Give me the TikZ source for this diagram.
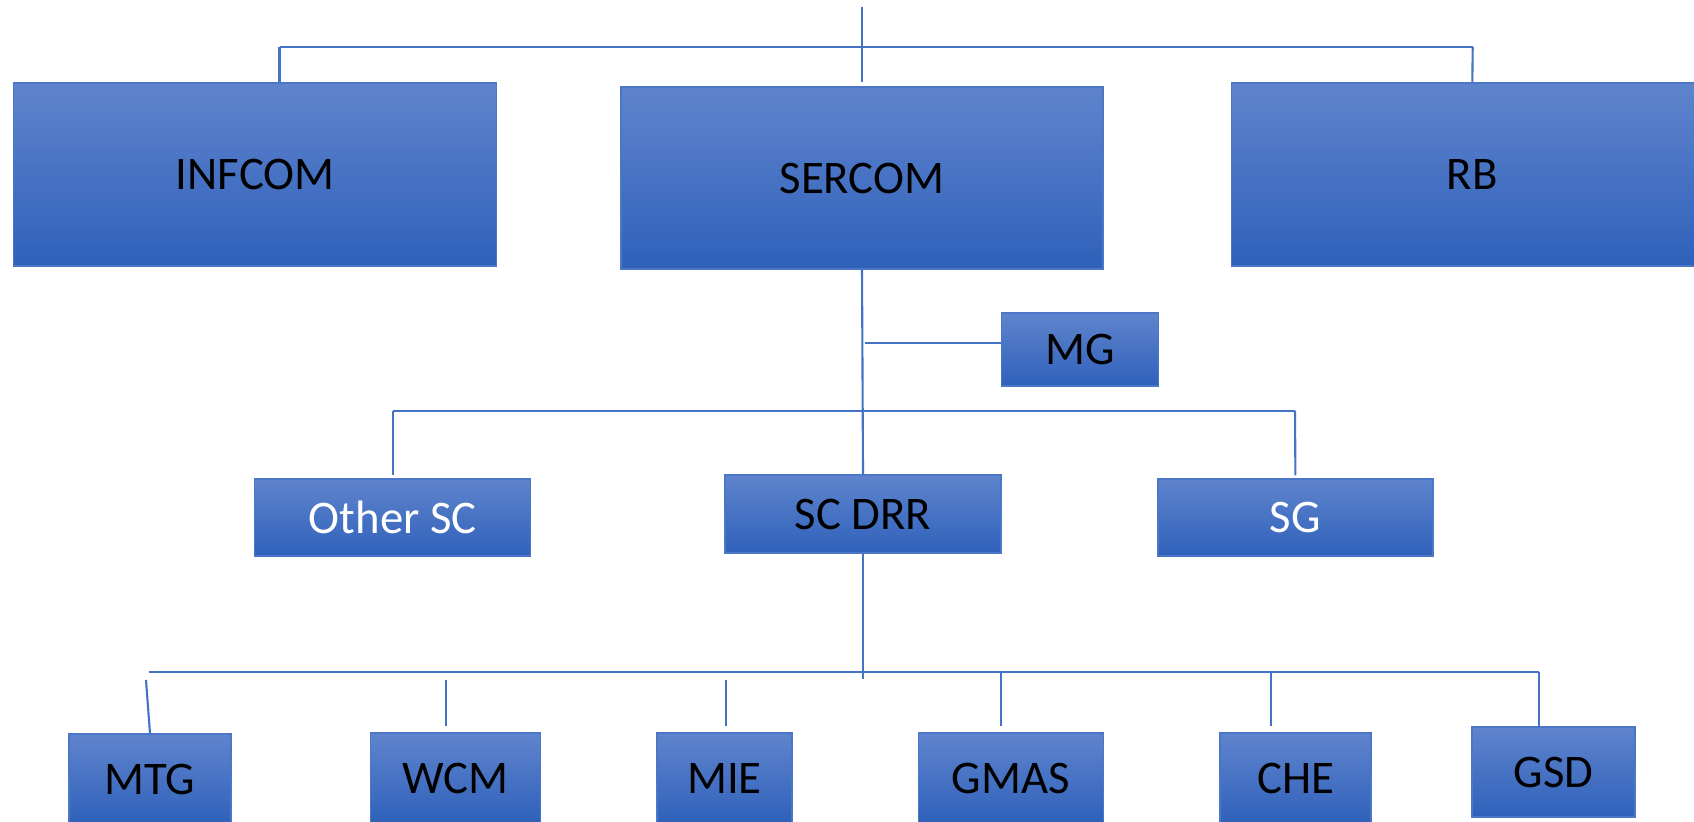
\documentclass[tikz,border=0pt]{standalone}
\usepackage{fontspec}
\setmainfont{Carlito}
\usepackage{tikz}
\usepackage{tkz-euclide}

\definecolor{azulclaro}{RGB}{95,132,205}
\definecolor{azulescuro}{RGB}{47,97,186}
\definecolor{azulborda}{RGB}{76,118,200}
\definecolor{azullinha}{RGB}{68,114,196}

\begin{document}
\begin{tikzpicture}[x=0.1mm, y=-0.1mm,
  caixa/.style={draw=azulborda, line width=0.4pt, top color=azulclaro, bottom color=azulescuro,
    font=\fontsize{13.3}{16}\selectfont, inner sep=0pt},
  linha/.style={draw=azullinha, line width=0.6pt}] %estilos das caixas e das linhas

\clip (0,0) rectangle (1694,821);

%O comando \tkzDefPoints define os pontos (x/y/Nome) usados como centros das caixas e como pontos das linhas
\tkzDefPoints{
255.2/174.5/A, 862/178/B, 1472.3/174.5/C,
1079.8/349.5/D,
392.7/517.5/E, 863/514/F, 1295.4/517.5/G,
150/779/H, 455.7/778/I, 724.5/778/J, 1010.7/778/K, 1295.5/778/L, 1553.4/772/M}

\tkzDefPoints{
862/7/T, 279.5/47/P, 1472.7/47/Q,
865/343/R,
392.7/410.7/S, 1295/410.7/U,
866/679/V, 148.7/672/W, 1539/672/Z,
146/680/N1, 446/680/N2, 726/680/N3, 1000.7/672/N4, 1271/672/N5}

%Primeiro nivel: tres caixas grandes
%---------------------------------------------------
\node[caixa, minimum width=48.3mm, minimum height=18.3mm] (infcom) at (A) {INFCOM};
\node[caixa, minimum width=48.2mm, minimum height=18.2mm] (sercom) at (B) {SERCOM};
\node[caixa, minimum width=48.2mm, minimum height=18.3mm] (rb) at (C) {RB};
%---------------------------------------------------

%Segundo nivel: MG ao lado e as tres caixas abaixo de SERCOM
%---------------------------------------------------
\node[caixa, minimum width=15.7mm, minimum height=7.3mm] (mg) at (D) {MG};
\node[caixa, minimum width=27.6mm, minimum height=7.7mm, text=white] (othersc) at (E) {Other SC};
\node[caixa, minimum width=27.6mm, minimum height=7.8mm] (scdrr) at (F) {SC DRR};
\node[caixa, minimum width=27.5mm, minimum height=7.7mm, text=white] (sg) at (G) {SG};
%---------------------------------------------------

%Terceiro nivel: seis caixas abaixo de SC DRR
%---------------------------------------------------
\node[caixa, minimum width=16.2mm, minimum height=9mm] (mtg) at (H) {MTG};
\node[caixa, minimum width=17mm, minimum height=9mm] (wcm) at (I) {WCM};
\node[caixa, minimum width=13.5mm, minimum height=9mm] (mie) at (J) {MIE};
\node[caixa, minimum width=18.5mm, minimum height=9mm] (gmas) at (K) {GMAS};
\node[caixa, minimum width=15.1mm, minimum height=9mm] (che) at (L) {CHE};
\node[caixa, minimum width=16.3mm, minimum height=9mm] (gsd) at (M) {GSD};
%---------------------------------------------------

%Linhas do primeiro nivel
%---------------------------------------------------
\draw[linha, shorten >=0.4mm] (T) -- (sercom.north);
\draw[linha] (P) -- (Q);
\draw[linha] (P) -- (P |- infcom.north);
\draw[linha] (Q) -- (rb.north);
%---------------------------------------------------

%Linhas do segundo nivel
%---------------------------------------------------
\draw[linha] (sercom.south) -- (scdrr.north);
\draw[linha] (R) -- (R -| mg.west);
\draw[linha] (S) -- (U);
\draw[linha, shorten >=0.3mm] (S) -- (othersc.north);
\draw[linha, shorten >=0.3mm] (U) -- (sg.north);
%---------------------------------------------------

%Linhas do terceiro nivel
%---------------------------------------------------
\draw[linha] (scdrr.south) -- (scdrr.south |- V);
\draw[linha] (W) -- (Z);
\draw[linha] (N1) -- (mtg.north);
\draw[linha, shorten >=0.6mm] (N2) -- (N2 |- wcm.north);
\draw[linha, shorten >=0.6mm] (N3) -- (N3 |- mie.north);
\draw[linha, shorten >=0.6mm] (N4) -- (N4 |- gmas.north);
\draw[linha, shorten >=0.6mm] (N5) -- (N5 |- che.north);
\draw[linha] (Z) -- (Z |- gsd.north);
%---------------------------------------------------

\end{tikzpicture}
\end{document}
